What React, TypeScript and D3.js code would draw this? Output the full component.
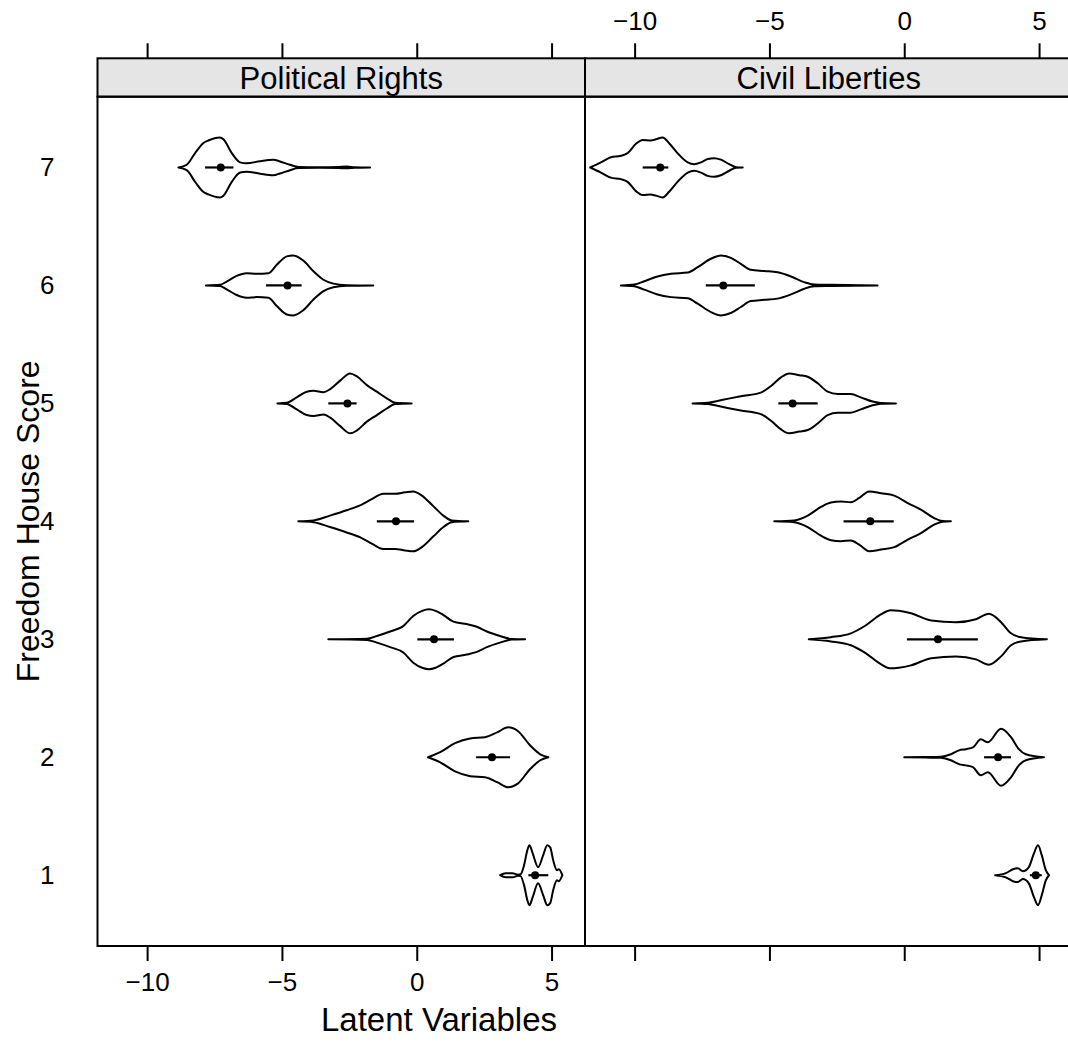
import * as d3 from 'd3';
import React, { useRef, useEffect } from 'react';

const panelNames = ['Political Rights', 'Civil Liberties'];
const scores = [1, 2, 3, 4, 5, 6, 7];
const xTicks = [-10, -5, 0, 5];

// violin outlines: [latent value, relative density]
const prDens1 = [[3.09, 0], [3.3, 0.07], [3.55, 0.07], [3.75, 0.02], [3.85, 0.03], [3.98, 0.33], [4.1, 0.83], [4.18, 1], [4.3, 0.73], [4.5, 0.27], [4.69, 0.67], [4.84, 1], [4.95, 0.93], [5.06, 0.5], [5.2, 0.17], [5.27, 0.2], [5.4, 0]];
const prDens2 = [[0.42, 0], [0.87, 0.17], [1.42, 0.47], [1.98, 0.63], [2.53, 0.67], [2.98, 0.83], [3.39, 1], [3.76, 0.87], [4.2, 0.4], [4.58, 0.1], [4.88, 0]];
const prDens3 = [[-3.28, 0], [-1.85, 0.02], [-1.48, 0.11], [-0.99, 0.26], [-0.5, 0.44], [-0.13, 0.78], [0.2, 0.95], [0.45, 1], [0.7, 0.95], [0.99, 0.81], [1.36, 0.59], [1.85, 0.51], [2.23, 0.42], [2.6, 0.26], [3.09, 0.11], [3.52, 0.01], [4.02, 0]];
const prDens4 = [[-4.39, 0], [-3.83, 0.03], [-3.22, 0.19], [-2.6, 0.37], [-2.04, 0.56], [-1.67, 0.74], [-1.24, 0.92], [-0.8, 0.92], [-0.43, 0.97], [-0.13, 1], [0.19, 0.86], [0.62, 0.5], [0.99, 0.19], [1.3, 0.03], [1.91, 0]];
const prDens5 = [[-5.17, 0], [-4.82, 0.02], [-4.45, 0.2], [-4.08, 0.39], [-3.83, 0.42], [-3.46, 0.37], [-3.22, 0.47], [-2.84, 0.76], [-2.47, 1], [-2.23, 0.91], [-1.85, 0.61], [-1.48, 0.39], [-1.11, 0.17], [-0.8, 0.02], [-0.19, 0]];
const prDens6 = [[-7.82, 0], [-7.3, 0.02], [-7.05, 0.13], [-6.68, 0.32], [-6.31, 0.41], [-5.93, 0.39], [-5.5, 0.41], [-5.19, 0.69], [-4.82, 0.97], [-4.58, 1], [-4.21, 0.83], [-3.83, 0.47], [-3.46, 0.19], [-3.09, 0.06], [-2.6, 0.01], [-1.61, 0]];
const prDens7 = [[-8.84, 0], [-8.53, 0.09], [-8.22, 0.48], [-7.92, 0.81], [-7.73, 0.9], [-7.3, 1], [-7.17, 0.94], [-6.86, 0.48], [-6.55, 0.17], [-6.31, 0.14], [-5.81, 0.21], [-5.32, 0.26], [-5.07, 0.2], [-4.7, 0.09], [-4.39, 0.02], [-3.6, 0.01], [-2.9, 0.02], [-2.6, 0.03], [-2.3, 0.01], [-1.73, 0]];

const civDens1 = [[3.37, 0], [3.77, 0.07], [4.03, 0.2], [4.21, 0.23], [4.4, 0.13], [4.62, 0.27], [4.81, 0.73], [4.96, 1], [5.1, 0.67], [5.25, 0.17], [5.37, 0]];
const civDens2 = [[0, 0], [0.8, 0.01], [1.36, 0.02], [1.73, 0.1], [2.03, 0.23], [2.29, 0.27], [2.55, 0.33], [2.84, 0.6], [3.1, 0.5], [3.59, 0.95], [3.96, 0.67], [4.25, 0.27], [4.51, 0.1], [5.18, 0]];
const civDens3 = [[-3.54, 0], [-2.72, 0.07], [-1.98, 0.2], [-1.42, 0.47], [-0.87, 0.83], [-0.5, 0.97], [-0.2, 0.95], [0.25, 0.87], [1.0, 0.63], [1.92, 0.57], [2.66, 0.67], [3.14, 0.85], [3.59, 0.57], [3.96, 0.2], [4.33, 0.07], [5.29, 0]];
const civDens4 = [[-4.82, 0], [-4.08, 0.03], [-3.58, 0.19], [-3.09, 0.48], [-2.72, 0.63], [-2.35, 0.66], [-1.98, 0.64], [-1.67, 0.78], [-1.3, 1], [-0.86, 0.94], [-0.37, 0.86], [0.13, 0.61], [0.62, 0.39], [1.11, 0.11], [1.42, 0.01], [1.73, 0]];
const civDens5 = [[-7.85, 0], [-7.29, 0.02], [-6.68, 0.13], [-6.06, 0.24], [-5.32, 0.36], [-4.94, 0.58], [-4.57, 0.87], [-4.27, 1], [-3.89, 0.94], [-3.58, 0.89], [-3.21, 0.67], [-2.84, 0.39], [-2.47, 0.31], [-1.98, 0.31], [-1.61, 0.2], [-1.17, 0.06], [-0.86, 0.01], [-0.31, 0]];
const civDens6 = [[-10.51, 0], [-10.01, 0.03], [-9.64, 0.14], [-9.15, 0.3], [-8.65, 0.39], [-8.03, 0.43], [-7.66, 0.61], [-7.17, 0.89], [-6.8, 1], [-6.43, 0.92], [-6.06, 0.72], [-5.69, 0.52], [-5.19, 0.48], [-4.7, 0.44], [-4.2, 0.3], [-3.71, 0.11], [-3.34, 0.03], [-2.72, 0.02], [-0.99, 0]];
const civDens7 = [[-11.65, 0], [-11.25, 0.17], [-10.88, 0.34], [-10.51, 0.39], [-10.26, 0.48], [-9.95, 0.79], [-9.7, 0.92], [-9.4, 0.9], [-9.21, 0.94], [-8.96, 1], [-8.72, 0.81], [-8.41, 0.48], [-8.03, 0.17], [-7.79, 0.11], [-7.54, 0.17], [-7.29, 0.28], [-7.05, 0.31], [-6.8, 0.26], [-6.49, 0.11], [-6.24, 0.01], [-5.99, 0]];

// medians and interval ends, scores 1..7
const prMedian = [4.39, 2.79, 0.64, -0.77, -2.57, -4.79, -7.27];
const prLow = [4.14, 2.2, 0.02, -1.48, -3.28, -5.59, -7.85];
const prHigh = [4.88, 3.46, 1.38, -0.1, -2.23, -4.27, -6.8];
const civMedian = [4.88, 3.48, 1.25, -1.26, -4.14, -6.71, -9.05];
const civLow = [4.66, 2.96, 0.1, -2.25, -4.67, -7.36, -9.7];
const civHigh = [5.1, 3.96, 2.73, -0.39, -3.21, -5.54, -8.75];

function ViolinPanels() {
  const svgRef = useRef(null);

  useEffect(() => {
    const width = 1068;
    const height = 1057;
    const left = 97.5;
    const panelW = 487.5;
    const top = 96.7;
    const bottom = 946;
    const stripTop = 58.3;
    const tick = 15;
    const lw = 2;
    const font = "'Liberation Sans', Arial, Helvetica, sans-serif";

    const svg = d3.select(svgRef.current);
    svg.selectAll('*').remove();
    svg.attr('width', width).attr('height', height);

    const y = d3.scaleLinear().domain([0.4, 7.6]).range([bottom, top]);
    const half = d3.scaleLinear().domain([0, 1]).range([0, 0.254]);

    const panels = [
      { name: panelNames[0], dens: [prDens1, prDens2, prDens3, prDens4, prDens5, prDens6, prDens7], med: prMedian, lo: prLow, hi: prHigh },
      { name: panelNames[1], dens: [civDens1, civDens2, civDens3, civDens4, civDens5, civDens6, civDens7], med: civMedian, lo: civLow, hi: civHigh },
    ];

    panels.forEach((p, i) => {
      const x0 = left + i * panelW;
      const x = d3.scaleLinear().domain([-11.84, 6.24]).range([x0, x0 + panelW]);
      const g = svg.append('g');

      /* violins */
      p.dens.forEach((dens, j) => {
        const s = scores[j];
        const area = d3
          .area()
          .x((d) => x(d[0]))
          .y0((d) => y(s - half(d[1])))
          .y1((d) => y(s + half(d[1])))
          .curve(d3.curveMonotoneX);
        g.append('path')
          .datum(dens)
          .attr('d', area)
          .attr('fill', 'none')
          .attr('stroke', 'black')
          .attr('stroke-width', lw)
          .attr('stroke-linejoin', 'round');

        g.append('line')
          .attr('x1', x(p.lo[j]))
          .attr('x2', x(p.hi[j]))
          .attr('y1', y(s))
          .attr('y2', y(s))
          .attr('stroke', 'black')
          .attr('stroke-width', 2.2);

        g.append('circle')
          .attr('cx', x(p.med[j]))
          .attr('cy', y(s))
          .attr('r', 4)
          .attr('fill', 'black');
      });

      /* strip */
      g.append('rect')
        .attr('x', x0)
        .attr('y', stripTop)
        .attr('width', panelW)
        .attr('height', top - stripTop)
        .attr('fill', '#e5e5e5')
        .attr('stroke', 'black')
        .attr('stroke-width', lw);
      g.append('text')
        .attr('x', x0 + panelW / 2)
        .attr('y', (stripTop + top) / 2)
        .attr('dy', '0.36em')
        .attr('text-anchor', 'middle')
        .attr('font-family', font)
        .attr('font-size', 31)
        .text(p.name);

      /* panel border */
      g.append('rect')
        .attr('x', x0)
        .attr('y', top)
        .attr('width', panelW)
        .attr('height', bottom - top)
        .attr('fill', 'none')
        .attr('stroke', 'black')
        .attr('stroke-width', lw);

      /* top and bottom axes, labels alternate between panels */
      const topAxis = d3
        .axisTop(x)
        .tickValues(xTicks)
        .tickSize(tick)
        .tickPadding(13)
        .tickFormat(i === 1 ? d3.format('d') : () => '');
      const bottomAxis = d3
        .axisBottom(x)
        .tickValues(xTicks)
        .tickSize(tick)
        .tickPadding(12)
        .tickFormat(i === 0 ? d3.format('d') : () => '');

      const ta = svg.append('g').attr('transform', `translate(0, ${stripTop})`).call(topAxis);
      const ba = svg.append('g').attr('transform', `translate(0, ${bottom})`).call(bottomAxis);
      [ta, ba].forEach((a) => {
        a.select('.domain').remove();
        a.selectAll('line').attr('stroke', 'black').attr('stroke-width', lw);
        a.selectAll('text').attr('fill', 'black').attr('font-family', font).attr('font-size', 26);
      });
    });

    /* left axis: labels only */
    const la = svg
      .append('g')
      .attr('transform', `translate(${left}, 0)`)
      .call(d3.axisLeft(y).tickValues(scores).tickSize(0).tickPadding(43).tickFormat(d3.format('d')));
    la.select('.domain').remove();
    la.selectAll('line').remove();
    la.selectAll('text').attr('fill', 'black').attr('font-family', font).attr('font-size', 26);

    /* axis titles */
    svg.append('text')
      .attr('x', 439)
      .attr('y', 1031)
      .attr('text-anchor', 'middle')
      .attr('font-family', font)
      .attr('font-size', 33)
      .text('Latent Variables');

    svg.append('text')
      .attr('transform', `translate(39, ${(top + bottom) / 2}) rotate(-90)`)
      .attr('text-anchor', 'middle')
      .attr('font-family', font)
      .attr('font-size', 32)
      .text('Freedom House Score');
  }, []);

  return <svg ref={svgRef} style={{ position: 'absolute', left: 0, top: 0 }}></svg>;
}

export default function App() {
  return <ViolinPanels />;
}
